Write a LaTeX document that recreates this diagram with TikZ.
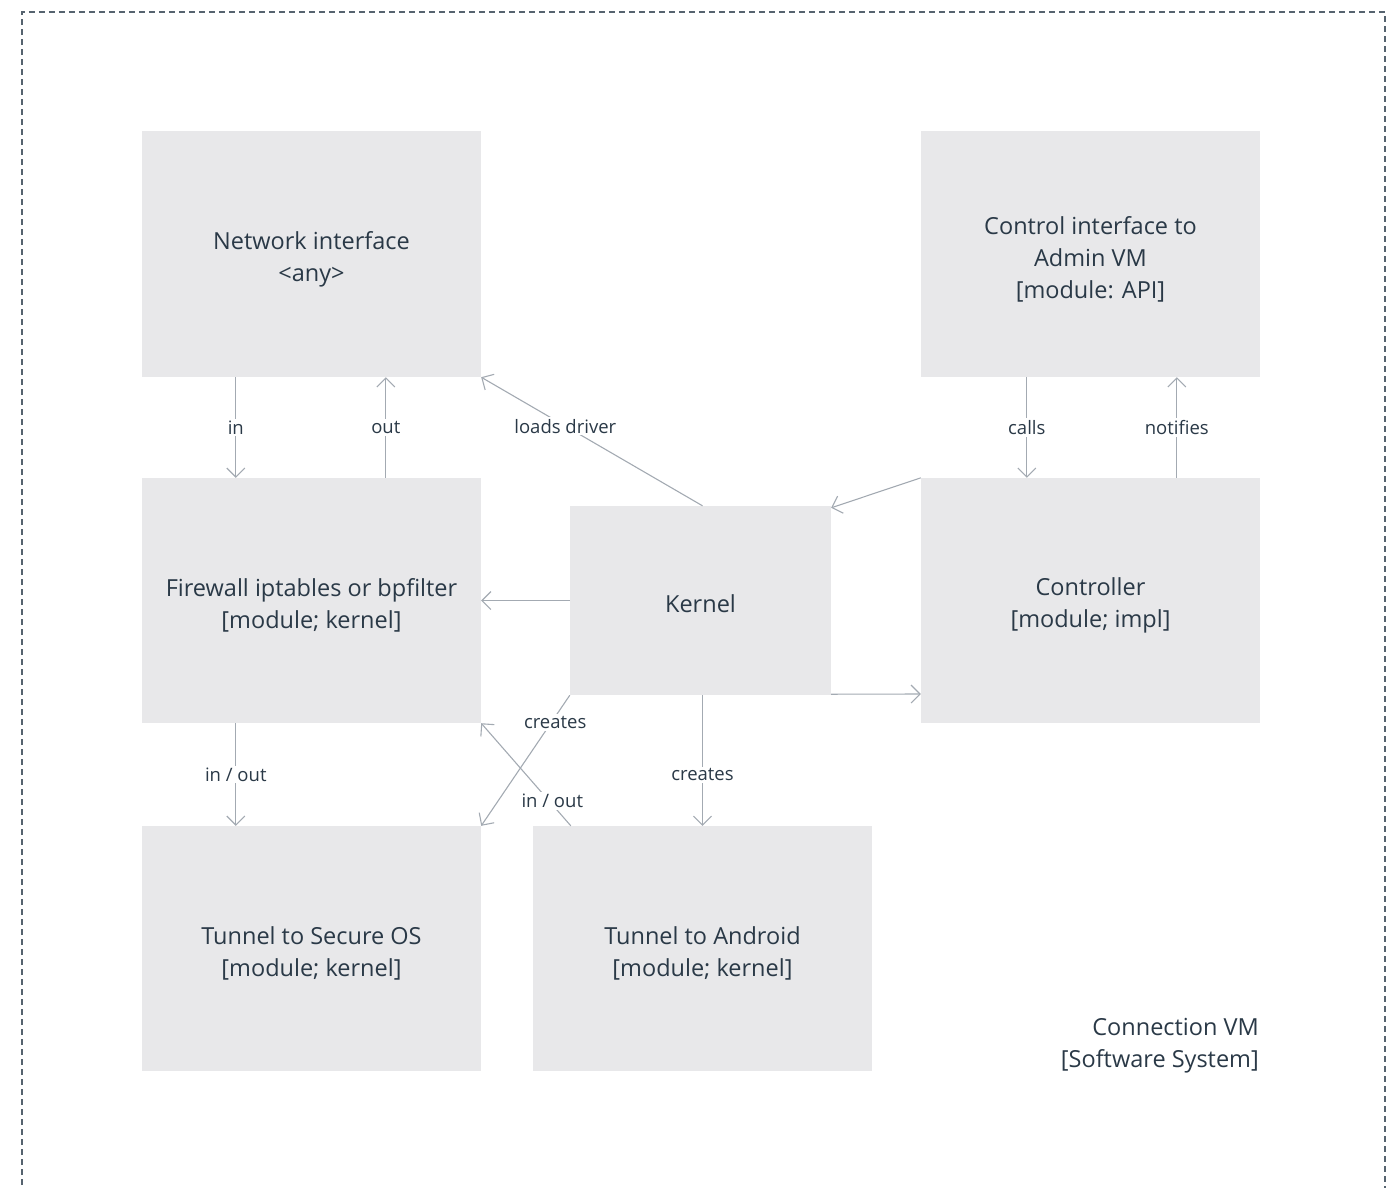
\documentclass[tikz,border=0pt]{standalone}
\usepackage{fontspec}
\setmainfont{Open Sans}
\usetikzlibrary{arrows.meta,calc}
\definecolor{boxfill}{HTML}{E8E8EA}
\definecolor{inktext}{HTML}{2A3947}
\definecolor{wire}{HTML}{A3AAB2}
\definecolor{frame}{HTML}{56636F}
\begin{document}
\begin{tikzpicture}[x=1pt,y=-1pt,
  block/.style={fill=boxfill,draw=none,inner sep=0pt},
  caption/.style={align=center,text=inktext,inner sep=0pt,yshift=-5pt,
    font=\fontsize{23.5}{32}\selectfont},
  rel/.style={draw=wire,line width=1.1pt,-{Straight Barb[length=9pt,width=18pt,line width=1.1pt]}},
  tag/.style={fill=white,text=inktext,inner sep=2pt,font=\fontsize{18.5}{20}\selectfont},
]
\useasboundingbox (0,0) rectangle (1397,1187);
% system boundary (open at the bottom edge of the page)
\draw[frame,line width=1.4pt,dash pattern=on 6pt off 4pt]
  (22,1195) -- (22,12) -- (1385,12) -- (1385,1195);

% containers
\node[block,minimum width=339pt,minimum height=246pt,
  label={[caption]center:Network interface\\<any>}] (net) at (311.5,254) {};
\node[block,minimum width=339pt,minimum height=246pt,
  label={[caption]center:Control interface to\\Admin VM\\{[}module: API{]}}] (ctl) at (1090.5,254) {};
\node[block,minimum width=339pt,minimum height=245pt,
  label={[caption]center:Firewall iptables or bpfilter\\{[}module; kernel{]}}] (fw) at (311.5,600.5) {};
\node[block,minimum width=261pt,minimum height=189pt,
  label={[caption,yshift=2pt]center:Kernel}] (kern) at (700.5,600.5) {};
\node[block,minimum width=339pt,minimum height=245pt,
  label={[caption]center:Controller\\{[}module; impl{]}}] (ctrl) at (1090.5,600.5) {};
\node[block,minimum width=339pt,minimum height=245pt,
  label={[caption]center:Tunnel to Secure OS\\{[}module; kernel{]}}] (sec) at (311.5,948.5) {};
\node[block,minimum width=339pt,minimum height=245pt,
  label={[caption]center:Tunnel to Android\\{[}module; kernel{]}}] (andr) at (702.5,948.5) {};

\node[anchor=east,align=right,text=inktext,inner sep=0pt,
  font=\fontsize{23.5}{32}\selectfont] (sys) at (1259,1046)
  {Connection VM\\{[}Software System{]}};

% relationships
\draw[rel] ($(net.south west)+(94,0)$) -- node[tag]{in} ($(fw.north west)+(94,0)$);
\draw[rel] ($(fw.north west)+(244,0)$) -- node[tag]{out} ($(net.south west)+(244,0)$);
\draw[rel] ($(kern.north)+(2,0)$) -- node[tag,pos=0.62]{loads driver} (net.south east);
\draw[rel] ($(ctl.south west)+(106,0)$) -- node[tag]{calls} ($(ctrl.north west)+(106,0)$);
\draw[rel] ($(ctrl.north west)+(256,0)$) -- node[tag]{notifies} ($(ctl.south west)+(256,0)$);
\draw[rel] (ctrl.north west) -- ($(kern.north east)+(0,2)$);
\draw[rel] (kern.west) -- (fw.east);
\draw[rel] ($(kern.south east)+(0,-1)$) -- ($(ctrl.west)+(0,93.5)$);
\draw[rel] ($(fw.south west)+(94,0)$) -- node[tag]{in / out} ($(sec.north west)+(94,0)$);
\draw[rel] (kern.south west) -- node[tag,pos=0.21,xshift=4pt]{creates} (sec.north east);
\draw[rel] ($(andr.north west)+(38,0)$) -- node[tag,pos=0.24,xshift=3pt]{in / out} (fw.south east);
\draw[rel] ($(kern.south)+(2,0)$) -- node[tag,pos=0.61]{creates} (andr.north);
\end{tikzpicture}
\end{document}
